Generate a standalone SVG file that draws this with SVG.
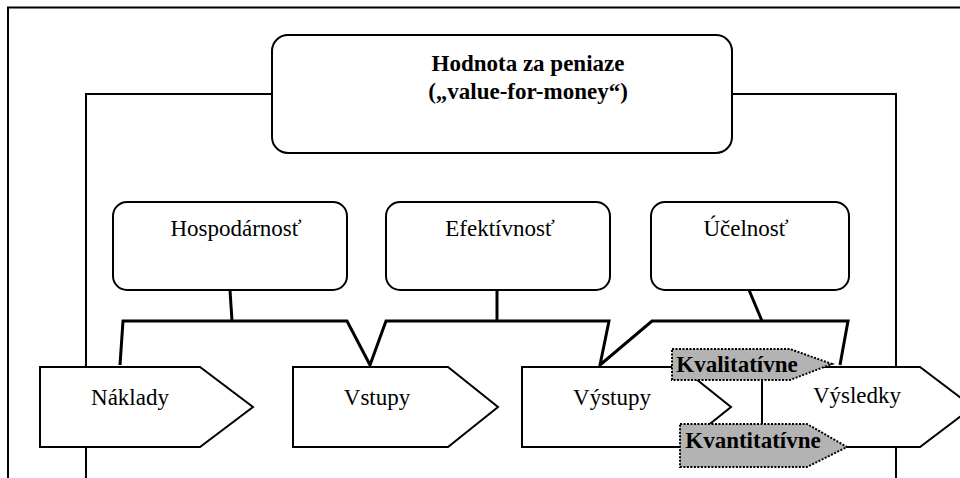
<svg xmlns="http://www.w3.org/2000/svg" width="960" height="478" viewBox="0 0 960 478">
<style>
.bg{fill:#ffffff}
.frame{fill:none;stroke:#000;stroke-width:2}
.box{fill:#fff;stroke:#000;stroke-width:2}
.thick{fill:none;stroke:#000;stroke-width:3;stroke-linejoin:miter}
.tag{fill:#b3b3b3;stroke:#000;stroke-width:2;stroke-dasharray:2 1.5}
.t{font-family:"Liberation Serif","Times New Roman",serif;font-size:23px;text-anchor:middle;fill:#000}
.b{font-weight:bold}
</style>
<rect class="bg" x="0" y="0" width="960" height="478"/>
<g id="frame">
<path class="frame" d="M8,478 V7.5 H962"/>
<path class="frame" d="M272,94 H86 V480"/>
<path class="frame" d="M732,94 H896 V480"/>
</g>
<g id="connectors">
<path class="thick" d="M230,290 L232,321"/>
<path class="thick" d="M497,290 L497,321"/>
<path class="thick" d="M749,290 L762,321"/>
<path class="thick" d="M120,365 L123,321 H347 L370,365 L386,321 H609 L600,365 L652,321 H848 L840,365"/>
</g>
<g id="value-for-money">
<rect class="box" x="272" y="35" width="460" height="118" rx="16"/>
<text class="t b" x="528" y="71">Hodnota za peniaze</text>
<text class="t b" x="528" y="99">(„value-for-money“)</text>
</g>
<g id="hospodarnost">
<rect class="box" x="113" y="202" width="234" height="88" rx="14"/>
<text class="t" x="236" y="236">Hospodárnosť</text>
</g>
<g id="efektivnost">
<rect class="box" x="386" y="202" width="224" height="88" rx="14"/>
<text class="t" x="500" y="236">Efektívnosť</text>
</g>
<g id="ucelnost">
<rect class="box" x="651" y="202" width="198" height="88" rx="14"/>
<text class="t" x="746" y="236">Účelnosť</text>
</g>
<g id="naklady">
<path class="box" d="M40,367 H200 L253,407 L200,447 H40 Z"/>
<text class="t" x="130" y="405">Náklady</text>
</g>
<g id="vstupy">
<path class="box" d="M293,367 H448 L498,407 L448,447 H293 Z"/>
<text class="t" x="377" y="405">Vstupy</text>
</g>
<g id="vystupy">
<path class="box" d="M522,367 H681 L731,407 L681,447 H522 Z"/>
<text class="t" x="612" y="405">Výstupy</text>
</g>
<g id="vysledky">
<path class="box" d="M762,367 H920 L973,407 L920,447 H762 Z"/>
<text class="t" x="857" y="403">Výsledky</text>
</g>
<g id="kvalitativne">
<path class="tag" d="M672,349 H790 L832,364 L790,380 H672 Z"/>
<text class="t b" x="737" y="372">Kvalitatívne</text>
</g>
<g id="kvantitativne">
<path class="tag" d="M680,424 H807 L847,447 L807,467 H680 Z"/>
<text class="t b" x="753" y="448">Kvantitatívne</text>
</g>
</svg>
